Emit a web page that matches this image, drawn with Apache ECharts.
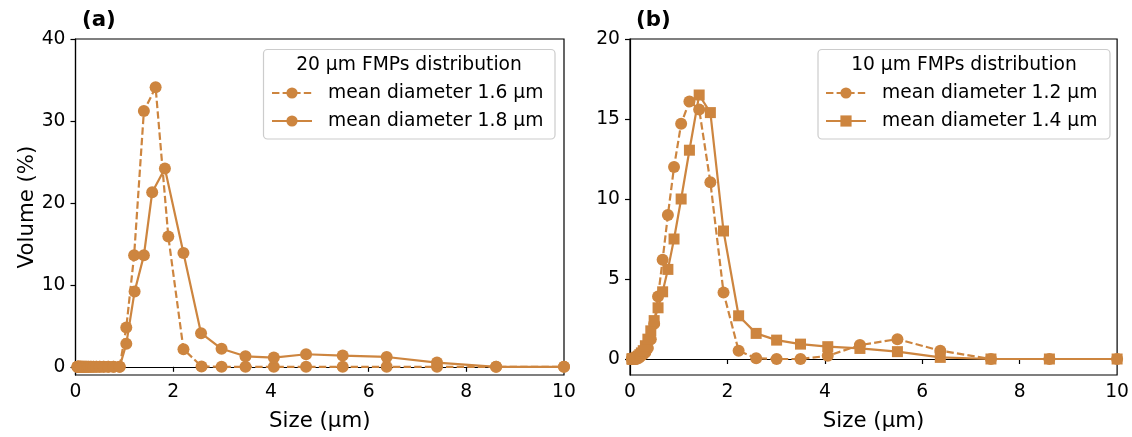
<!DOCTYPE html>
<html>
<head>
<meta charset="utf-8">
<script src="https://cdn.jsdelivr.net/npm/echarts@6/dist/echarts.min.js"></script>
<style>
html,body{margin:0;padding:0;background:#fff;}
#c{width:1132px;height:437px;}
</style>
</head>
<body>
<div id="c"></div>
<script>
// ---- Panel (a): 20 µm FMPs ----
const sizeA16 = [0.039,0.045,0.052,0.061,0.070,0.082,0.095,0.110,0.128,0.149,0.174,0.202,0.234,0.272,0.316,0.367,0.427,0.496,0.576,0.670,0.778,0.904,
  1.04,1.20,1.40,1.64,1.90,2.21,2.58,2.99,3.48,4.06,4.72,5.47,6.37,7.40,8.61,10.0];
const volA16 = [0,0,0,0,0,0,0,0,0,0,0,0,0,0,0,0,0,0,0,0,0,0,
  4.8,13.6,31.2,34.1,15.9,2.15,0.05,0,0,0,0,0,0,0,0,0];
const sizeA18 = [0.039,0.045,0.052,0.061,0.070,0.082,0.095,0.110,0.128,0.149,0.174,0.202,0.234,0.272,0.316,0.367,0.427,0.496,0.576,0.670,0.778,0.904,
  1.04,1.21,1.40,1.57,1.83,2.21,2.57,2.99,3.48,4.06,4.72,5.47,6.37,7.40,8.61,10.0];
const volA18 = [0,0,0,0,0,0,0,0,0,0,0,0,0,0,0,0,0,0,0,0,0,0,
  2.8,9.2,13.6,21.3,24.2,13.9,4.1,2.2,1.28,1.13,1.53,1.37,1.2,0.52,0,0];

// ---- Panel (b): 10 µm FMPs ----
const sizeB = [0.039,0.045,0.052,0.061,0.070,0.082,0.095,0.110,0.128,0.149,0.174,0.202,0.234,0.272,0.316,0.367,0.427,0.496,0.576,0.670,0.778,0.904,
  1.05,1.22,1.42,1.65,1.92,2.23,2.59,3.01,3.50,4.06,4.72,5.49,6.37,7.41,8.61,10.0];
const volB12 = [0,0,0.01,0.01,0.02,0.02,0.03,0.04,0.05,0.07,0.09,0.14,0.22,0.3,0.42,0.68,1.24,2.2,3.9,6.2,9.0,12.0,
  14.7,16.1,15.6,11.05,4.15,0.52,0.05,0,0,0.2,0.87,1.24,0.52,0,0,0];
const volB14 = [0,0,0,0.01,0.01,0.02,0.03,0.05,0.08,0.12,0.18,0.27,0.38,0.52,0.83,1.24,1.76,2.4,3.2,4.2,5.6,7.5,
  10.0,13.05,16.5,15.4,8.0,2.7,1.6,1.18,0.93,0.77,0.66,0.46,0.1,0,0,0];

const xTicks = [0,2,4,6,8,10];
const yTicksA = [0,10,20,30,40];
const yTicksB = [0,5,10,15,20];

const names = ['mean diameter 1.6 µm','mean diameter 1.8 µm','mean diameter 1.2 µm','mean diameter 1.4 µm'];
const legendTitles = ['20 µm FMPs distribution','10 µm FMPs distribution'];
const panelLabels = ['(a)','(b)'];

const COLOR = '#CD853F';
const FONT = 'DejaVu Sans';
const TICKFS = 18.7;
const LABFS = 21.3;

function zip(xs, ys){ return xs.map((x,i)=>[x, ys[i]]); }

function xAxisCfg(gi){
  return {
    gridIndex: gi, type:'value', min:0, max:10, interval:2,
    name: 'Size (µm)', nameLocation:'middle', nameGap: 36,
    nameTextStyle:{fontFamily:FONT,fontSize:LABFS,color:'#000'},
    axisLine:{show:true,lineStyle:{color:'#000',width:1.2}},
    axisTick:{show:true,inside:false,length:5,lineStyle:{color:'#000',width:1.2}},
    axisLabel:{fontFamily:FONT,fontSize:TICKFS,color:'#000',margin:8},
    splitLine:{show:false}
  };
}
function yAxisCfg(gi, max, ticks, name){
  return {
    gridIndex: gi, type:'value', min:-1, max:max,
    name: name || '', nameLocation:'middle', nameGap: 37,
    nameTextStyle:{fontFamily:FONT,fontSize:LABFS,color:'#000'},
    axisLine:{show:true,onZero:false,lineStyle:{color:'#000',width:1.2}},
    axisTick:{show:true,inside:false,length:5,customValues:ticks,lineStyle:{color:'#000',width:1.2}},
    axisLabel:{fontFamily:FONT,fontSize:TICKFS,color:'#000',margin:10,customValues:ticks},
    splitLine:{show:false}
  };
}
function seriesCfg(name, gi, data, dashed, symbol, size){
  return {
    name: name, type:'line', xAxisIndex:gi, yAxisIndex:gi, data:data,
    symbol: symbol, symbolSize: size, showAllSymbol:true,
    lineStyle:{color:COLOR,width:2.2,type: dashed ? [7.4,3.2] : 'solid'},
    itemStyle:{color:COLOR,borderWidth:0},
    emphasis:{disabled:true}
  };
}
function legendCfg(data, left){
  return {
    data: data, orient:'vertical', left:left, top:83, padding:0, z:10,
    itemWidth:40, itemHeight:14, itemGap:8,
    textStyle:{fontFamily:FONT,fontSize:TICKFS,color:'#000',padding:[0,0,0,11],lineHeight:20},
    selectedMode:false
  };
}

const chart = echarts.init(document.getElementById('c'), null, {renderer:'canvas'});
chart.setOption({
  animation:false,
  backgroundColor:'#fff',
  grid:[
    {left:75.5, top:39, width:488.5, height:338, show:true, borderColor:'#000', borderWidth:1.2},
    {left:630, top:39, width:488, height:338, show:true, borderColor:'#000', borderWidth:1.2}
  ],
  xAxis:[xAxisCfg(0), xAxisCfg(1)],
  yAxis:[yAxisCfg(0,40,yTicksA,'Volume (%)'), yAxisCfg(1,20,yTicksB,'')],
  legend:[legendCfg([names[0],names[1]],271), legendCfg([names[2],names[3]],825)],
  graphic:[
    {type:'rect', z:3, shape:{x:263.5,y:49.5,width:291.5,height:89.5,r:4}, style:{fill:'rgba(255,255,255,0.8)',stroke:'#cccccc',lineWidth:1.2}},
    {type:'text', z:6, x:409, y:65, style:{text:legendTitles[0],font:TICKFS+'px "'+FONT+'"',fill:'#000',textAlign:'center',textVerticalAlign:'middle'}},
    {type:'rect', z:3, shape:{x:818,y:49.5,width:292,height:89.5,r:4}, style:{fill:'rgba(255,255,255,0.8)',stroke:'#cccccc',lineWidth:1.2}},
    {type:'text', z:6, x:964, y:65, style:{text:legendTitles[1],font:TICKFS+'px "'+FONT+'"',fill:'#000',textAlign:'center',textVerticalAlign:'middle'}},
    {type:'text', z:6, x:82, y:20, style:{text:panelLabels[0],font:'bold '+LABFS+'px "'+FONT+'"',fill:'#000',textAlign:'left',textVerticalAlign:'middle'}},
    {type:'text', z:6, x:636, y:20, style:{text:panelLabels[1],font:'bold '+LABFS+'px "'+FONT+'"',fill:'#000',textAlign:'left',textVerticalAlign:'middle'}}
  ],
  series:[
    seriesCfg(names[0],0,zip(sizeA16,volA16),true,'circle',12),
    seriesCfg(names[1],0,zip(sizeA18,volA18),false,'circle',12),
    seriesCfg(names[2],1,zip(sizeB,volB12),true,'circle',12),
    seriesCfg(names[3],1,zip(sizeB,volB14),false,'rect',11)
  ]
});
</script>
</body>
</html>
